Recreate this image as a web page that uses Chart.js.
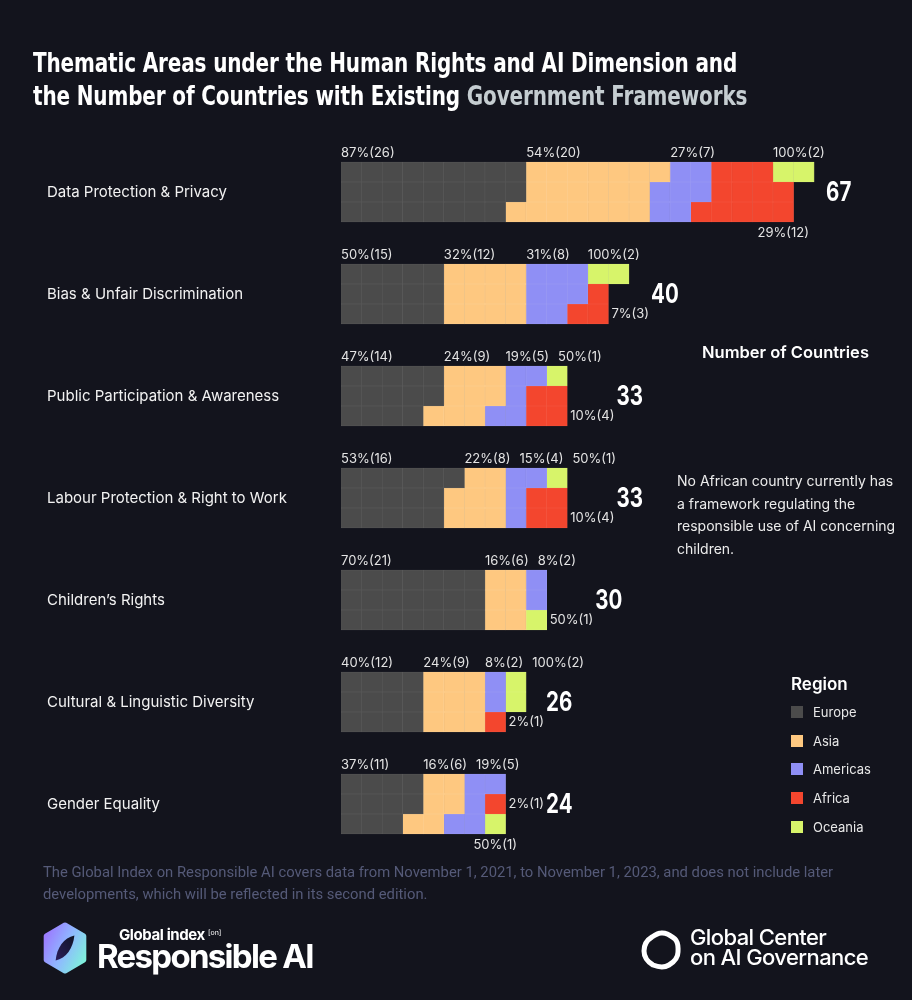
<!DOCTYPE html>
<html>
<head>
<meta charset="utf-8">
<script src="https://cdn.jsdelivr.net/npm/chart.js@4.4.0/dist/chart.umd.min.js"></script>
<style>
  html, body { margin: 0; padding: 0; background: #13141d; }
  #page { position: relative; width: 912px; height: 1000px; overflow: hidden; font-family: Inter, "Noto Sans", sans-serif; color: #fff; }
  #chart { position: absolute; left: 0; top: 0; }
  .abs { position: absolute; white-space: nowrap; }
  #title { left: 33px; top: 47px; font: bold 26px/33px "DejaVu Sans", sans-serif; transform: scaleX(0.77); transform-origin: 0 0; letter-spacing: -0.2px; }
  #title span { color: #c5cdd1; }
  #ncount { left: 702px; top: 342px; font-weight: 600; font-size: 16.5px; }
  #note { left: 677px; top: 470px; font-size: 14px; line-height: 22.7px; color: #ececec; }
  #legend { left: 791px; top: 672px; font-size: 13px; color: #e8e8e8; }
  #legend .head { font-weight: 600; font-size: 17px; color: #fff; height: 26px; line-height: 24px; }
  #legend .item { height: 28.7px; line-height: 28.7px; }
  #legend i { display: inline-block; width: 12px; height: 12px; margin-right: 10px; vertical-align: -1px; }
  #foot { left: 43px; top: 861px; font-family: Roboto, sans-serif; font-size: 14.8px; line-height: 22px; color: #555a78; }
  #logo1 { left: 41px; top: 922px; }
  #logo1 .small { left: 78px; top: 3px; font-weight: 700; font-size: 15px; letter-spacing: -0.4px; }
  #logo1 .small sup { font-size: 7px; font-weight: 400; vertical-align: 5px; letter-spacing: 0; }
  #logo1 .big { left: 56px; top: 14px; font-weight: 700; font-size: 33px; letter-spacing: -1.7px; }
  #logo2 { left: 640px; top: 929px; }
  #logo2 .txt { left: 50px; top: -2px; font-weight: 500; font-size: 22px; line-height: 20px; letter-spacing: -0.6px; }
</style>
</head>
<body>
<div id="page">
  <canvas id="chart" width="912" height="1000"></canvas>
  <div id="title" class="abs">Thematic Areas under the Human Rights and AI Dimension and<br>the Number of Countries with Existing <span>Government Frameworks</span></div>
  <div id="ncount" class="abs">Number of Countries</div>
  <div id="note" class="abs">No African country currently has<br>a framework regulating the<br>responsible use of AI concerning<br>children.</div>
  <div id="legend" class="abs"></div>
  <div id="foot" class="abs">The Global Index on Responsible AI covers data from November 1, 2021, to November 1, 2023, and does not include later<br>developments, which will be reflected in its second edition.</div>
  <div id="logo1" class="abs">
    <svg width="48" height="52" viewBox="0 0 46 50">
      <defs>
        <linearGradient id="hexg" x1="0" y1="0.2" x2="1" y2="0.8">
          <stop offset="0" stop-color="#9b7cff"/>
          <stop offset="0.5" stop-color="#8fb8ff"/>
          <stop offset="1" stop-color="#7ff0dc"/>
        </linearGradient>
        <linearGradient id="leafg" x1="0" y1="1" x2="1" y2="0">
          <stop offset="0" stop-color="#2b1e5c"/>
          <stop offset="1" stop-color="#101425"/>
        </linearGradient>
      </defs>
      <path d="M23 3 L41 13.5 L41 36.5 L23 47 L5 36.5 L5 13.5 Z" fill="url(#hexg)" stroke="url(#hexg)" stroke-width="5" stroke-linejoin="round"/>
      <path d="M14 37 C15 25 22 15 32 13 C31 25 24 35 14 37 Z" fill="url(#leafg)"/>
    </svg>
    <div class="abs small">Global index <sup>[on]</sup></div>
    <div class="abs big">Responsible AI</div>
  </div>
  <div id="logo2" class="abs">
    <svg width="42" height="42" viewBox="0 0 42 42">
      <path d="M21 4 C27 3 31 7 35 10 C39 14 38 19 38 23 C38 29 34 33 29 36 C24 39 18 38 13 36 C8 33 4 28 4 22 C4 15 7 11 12 8 C15 6 18 4 21 4 Z" fill="none" stroke="#fff" stroke-width="5" stroke-linejoin="round"/>
    </svg>
    <div class="abs txt">Global Center<br>on AI Governance</div>
  </div>
</div>
<script>
// thematic areas (top to bottom)
const themes = [
  'Data Protection & Privacy',
  'Bias & Unfair Discrimination',
  'Public Participation & Awareness',
  'Labour Protection & Right to Work',
  'Children\u2019s Rights',
  'Cultural & Linguistic Diversity',
  'Gender Equality'
];
const regions = ['Europe', 'Asia', 'Americas', 'Africa', 'Oceania'];

// number of countries per region and theme
const europe   = [26, 15, 14, 16, 21, 12, 11];
const asia     = [20, 12,  9,  8,  6,  9,  6];
const americas = [ 7,  8,  5,  4,  2,  2,  5];
const africa   = [12,  3,  4,  4,  0,  1,  1];
const oceania  = [ 2,  2,  1,  1,  1,  2,  1];

// share of the region's countries (%)
const europePct   = [87, 50, 47, 53, 70, 40, 37];
const asiaPct     = [54, 32, 24, 22, 16, 24, 16];
const americasPct = [27, 31, 19, 15,  8,  8, 19];
const africaPct   = [29,  7, 10, 10,  0,  2,  2];
const oceaniaPct  = [100, 100, 50, 50, 50, 100, 50];

const counts = [europe, asia, americas, africa, oceania];
const pcts = [europePct, asiaPct, americasPct, africaPct, oceaniaPct];

// look
const ROWS = 3;          // cells per column
const THEME_GAP = 5.1;   // rows between two themes
const regionColors = ['#4b4b4b', '#fec880', '#8f8ff5', '#f3462e', '#d7f46a'];
const cellLines = ['#5e5e5e', '#fccf92', '#9b9bf3', '#f25a44', '#dcf47e'];
const LABEL_FONT = '13px Inter';
const TOTAL_FONT = 'bold 27px Inter';
const TOTAL_SQUEEZE = 0.76;
// where each region's label sits: above the grid, right of its last cell, or below it
const labelSide = [
  ['top', 'top', 'top', 'below', 'top'],
  ['top', 'top', 'top', 'right', 'top'],
  ['top', 'top', 'top', 'right', 'top'],
  ['top', 'top', 'top', 'right', 'top'],
  ['top', 'top', 'top', null, 'right'],
  ['top', 'top', 'top', 'right', 'top'],
  ['top', 'top', 'top', 'right', 'below']
];

// fill cells column by column, top to bottom
function layoutCells(t) {
  const seq = [];
  counts.forEach((arr, r) => { for (let i = 0; i < arr[t]; i++) seq.push(r); });
  const cols = [];
  seq.forEach((r, i) => {
    const c = Math.floor(i / ROWS);
    (cols[c] = cols[c] || []).push(r);
  });
  // a column holding only Africa and Oceania puts Oceania on top
  cols.forEach(col => { if (col.every(r => r >= 3)) col.sort((a, b) => b - a); });
  const cells = [];
  cols.forEach((col, c) => col.forEach((r, row) => cells.push({ region: r, col: c, row: row })));
  return cells;
}
const layouts = themes.map((_, t) => layoutCells(t));

const datasets = regions.map((name, r) => ({
  label: name,
  data: layouts.flatMap((cells, t) => cells
    .filter(c => c.region === r)
    .map(c => ({ x: [c.col, c.col + 1], y: t * THEME_GAP + c.row }))),
  backgroundColor: regionColors[r],
  borderColor: cellLines[r],
  borderWidth: 0.6,
  borderSkipped: false,
  grouped: false,
  barPercentage: 1,
  categoryPercentage: 1
}));

const labelPlugin = {
  id: 'waffleLabels',
  afterDatasetsDraw(chart) {
    const { ctx, scales: { x, y } } = chart;
    ctx.save();
    ctx.textBaseline = 'middle';
    themes.forEach((theme, t) => {
      const cells = layouts[t];
      const base = t * THEME_GAP;
      const top = y.getPixelForValue(base - 0.5);
      const bottom = y.getPixelForValue(base + ROWS - 0.5);
      const lastCol = Math.max(...cells.map(c => c.col));
      const gridEnd = x.getPixelForValue(lastCol + 1);
      let prevEnd = -Infinity;
      let rightEnd = -Infinity;
      regions.forEach((name, r) => {
        const own = cells.filter(c => c.region === r);
        const side = labelSide[t][r];
        if (!own.length || !side) return;
        const text = pcts[r][t] + '%(' + counts[r][t] + ')';
        ctx.font = LABEL_FONT;
        ctx.fillStyle = '#e4e4e4';
        const w = ctx.measureText(text).width;
        if (side === 'top') {
          const row = Math.min(...own.map(c => c.row));
          const col = Math.min(...own.filter(c => c.row === row).map(c => c.col));
          const px = Math.max(x.getPixelForValue(col), prevEnd + 9);
          ctx.textAlign = 'left';
          ctx.fillText(text, px, top - 9);
          prevEnd = px + w;
        } else {
          const row = Math.max(...own.map(c => c.row));
          const col = Math.max(...own.filter(c => c.row === row).map(c => c.col));
          if (side === 'right') {
            const px = x.getPixelForValue(col + 1) + 3;
            ctx.textAlign = 'left';
            ctx.fillText(text, px, y.getPixelForValue(base + row));
            rightEnd = Math.max(rightEnd, px + w);
          } else {
            ctx.textAlign = 'center';
            ctx.fillText(text, x.getPixelForValue(col + 0.5), bottom + 11);
          }
        }
      });
      // total, drawn a little condensed
      const total = counts.reduce((s, arr) => s + arr[t], 0);
      ctx.save();
      ctx.font = TOTAL_FONT;
      ctx.fillStyle = '#ffffff';
      ctx.textAlign = 'left';
      ctx.translate(Math.max(gridEnd + 12, rightEnd + 2), y.getPixelForValue(base + 1) + 1);
      ctx.scale(TOTAL_SQUEEZE, 1);
      ctx.fillText(String(total), 0, 0);
      ctx.restore();
    });
    ctx.restore();
  }
};

new Chart(document.getElementById('chart'), {
  type: 'bar',
  data: { datasets: datasets },
  options: {
    indexAxis: 'y',
    responsive: false,
    animation: false,
    events: [],
    layout: { autoPadding: false, padding: { left: 47, right: 15.6, top: 112, bottom: 60 } },
    plugins: { legend: { display: false }, tooltip: { enabled: false } },
    scales: {
      x: { type: 'linear', min: 0, max: 27, display: false },
      y: {
        type: 'linear',
        reverse: true,
        offset: false,
        min: -3,
        max: 38.4,
        grid: { display: false },
        border: { display: false },
        afterFit: s => { s.width = 294; },
        afterBuildTicks: s => { s.ticks = themes.map((_, t) => ({ value: t * THEME_GAP + 1 })); },
        ticks: {
          crossAlign: 'far',
          padding: 0,
          color: '#f2f2f2',
          font: { family: 'Inter', size: 15 },
          callback: (v, i) => themes[i]
        }
      }
    }
  },
  plugins: [labelPlugin]
});

// region legend
document.getElementById('legend').innerHTML = '<div class="head">Region</div>' +
  regions.map((name, r) => '<div class="item"><i style="background:' + regionColors[r] + '"></i>' + name + '</div>').join('');
</script>
</body>
</html>
